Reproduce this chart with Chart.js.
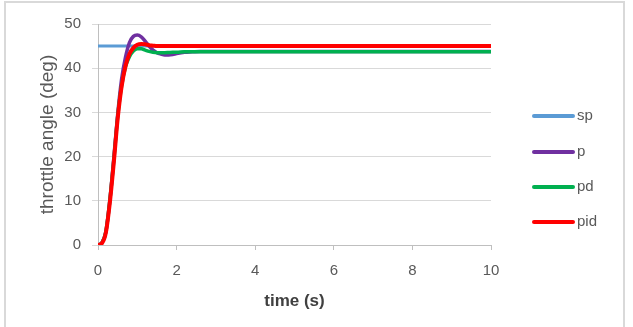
<!DOCTYPE html>
<html>
<head>
<meta charset="utf-8">
<script src="https://cdn.jsdelivr.net/npm/chart.js@4.4.1/dist/chart.umd.min.js"></script>
<style>
  body { margin: 0; background: #fff; }
  #wrap { position: relative; width: 633px; height: 327px; overflow: hidden; }
  #frame { position: absolute; left: 4px; top: 1px; width: 617px; height: 340px; border: 2px solid #d9d9d9; }
  #chart { position: absolute; left: 0; top: 0; }
  #legend { position: absolute; left: 532px; top: 0; font-family: "Liberation Sans", sans-serif; font-size: 15px; color: #595959; }
  .item { position: absolute; left: 0; white-space: nowrap; }
  .item span.sw { position: absolute; left: 0; width: 43px; height: 4px; border-radius: 2px; }
  .item span.tx { position: absolute; left: 45px; top: -8px; }
</style>
</head>
<body>
<div id="wrap">
  <div id="frame"></div>
  <canvas id="chart" width="633" height="327"></canvas>
  <div id="legend"></div>
</div>
<script>
// tiempo (s)
const time = [0, 0.1, 0.2, 0.3, 0.4, 0.5, 0.6, 0.7, 0.8, 0.9, 1.0, 1.1, 1.2, 1.3, 1.4, 1.5, 1.6, 1.7, 1.8, 1.9, 2.0, 2.2, 2.4, 2.6, 2.8, 3, 4, 5, 6, 7, 8, 9, 10];

// series (deg)
const sp  = [45, 45, 45, 45, 45, 45, 45, 45, 45, 45, 45, 45, 45, 45, 45, 45, 45, 45, 45, 45, 45, 45, 45, 45, 45, 45, 45, 45, 45, 45, 45, 45, 45];
const p   = [0, 0.5, 3, 10, 19.5, 29.5, 37.5, 42.5, 45.8, 47.2, 47.5, 47.1, 46.1, 45.0, 44.1, 43.5, 43.2, 43.0, 43.0, 43.1, 43.3, 43.6, 43.7, 43.8, 43.8, 43.8, 43.8, 43.8, 43.8, 43.8, 43.8, 43.8, 43.8];
const pd  = [0, 0.5, 3, 10, 19, 29, 36, 40.3, 42.6, 43.9, 44.4, 44.4, 44.1, 43.8, 43.6, 43.5, 43.5, 43.5, 43.55, 43.6, 43.6, 43.7, 43.7, 43.7, 43.7, 43.7, 43.7, 43.7, 43.7, 43.7, 43.7, 43.7, 43.7];
const pid = [0, 0.4, 2.8, 9.5, 18.5, 28.5, 35.8, 40.5, 43.2, 44.6, 45.3, 45.5, 45.4, 45.2, 45.1, 45.0, 45.0, 45.0, 45.0, 45.0, 45.0, 45.0, 45.0, 45.0, 45.0, 45.0, 45.0, 45.0, 45.0, 45.0, 45.0, 45.0, 45.0];

const names  = ["sp", "p", "pd", "pid"];
const series = [sp, p, pd, pid];
const colors = ["#5b9bd5", "#7030a0", "#00b050", "#ff0000"];
const widths = [3, 3.5, 3.5, 4];

const xTicks = [0, 2, 4, 6, 8, 10];

const datasets = series.map(function (vals, i) {
  return {
    label: names[i],
    data: vals.map(function (v, j) { return { x: time[j], y: v }; }),
    borderColor: colors[i],
    backgroundColor: colors[i],
    borderWidth: widths[i],
    pointRadius: 0,
    cubicInterpolationMode: "monotone",
    order: series.length - i
  };
});

const tickFont = { family: "Liberation Sans", size: 15 };

new Chart(document.getElementById("chart").getContext("2d"), {
  type: "line",
  data: { datasets: datasets },
  options: {
    responsive: false,
    animation: false,
    devicePixelRatio: 1,
    layout: { padding: { left: 36, top: 24, right: 142, bottom: 0 } },
    plugins: { legend: { display: false }, tooltip: { enabled: false } },
    scales: {
      x: {
        type: "linear",
        min: 0,
        max: 10,
        afterBuildTicks: function (scale) { scale.ticks = xTicks.map(function (v) { return { value: v }; }); },
        afterFit: function (scale) { scale.height = 82; },
        grid: { drawOnChartArea: false, drawTicks: true, tickLength: 5, color: "#bfbfbf" },
        border: { color: "#bfbfbf", width: 1 },
        ticks: { font: tickFont, color: "#595959", padding: 12, maxRotation: 0 },
        title: { display: true, text: "time (s)", font: { family: "Liberation Sans", size: 17, weight: "bold" }, color: "#404040", padding: { top: 0, bottom: 15 } }
      },
      y: {
        min: 0,
        max: 50,
        ticks: { stepSize: 10, font: tickFont, color: "#595959", padding: 11 },
        afterFit: function (scale) { scale.width = 62; },
        grid: { color: "#d9d9d9", tickLength: 6 },
        border: { color: "#bfbfbf", width: 1 },
        title: { display: true, text: "throttle angle (deg)", font: { family: "Liberation Sans", size: 19 }, color: "#595959", padding: { top: 0, bottom: 0 } }
      }
    }
  }
});

// leyenda
const legendTop = [116, 152, 187, 222];
const legend = document.getElementById("legend");
names.forEach(function (n, i) {
  const item = document.createElement("div");
  item.className = "item";
  item.style.top = (legendTop[i] - 2) + "px";
  item.innerHTML = '<span class="sw" style="background:' + colors[i] + '"></span><span class="tx">' + n + "</span>";
  legend.appendChild(item);
});
</script>
</body>
</html>
